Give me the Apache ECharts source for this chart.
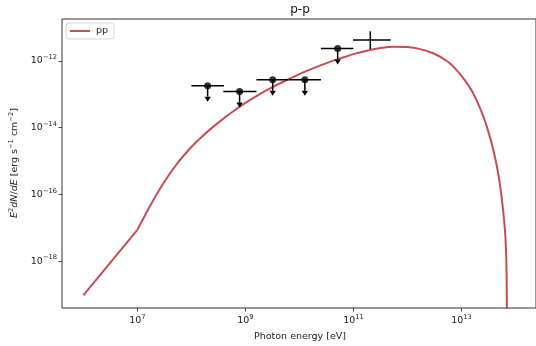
<!DOCTYPE html>
<html>
<head>
<meta charset="utf-8">
<script src="https://cdn.jsdelivr.net/npm/echarts@6/dist/echarts.min.js"></script>
<style>html,body{margin:0;padding:0;background:#fff}#c{width:536px;height:346px}</style>
</head>
<body>
<div id="c"></div>
<script>
// Model curve (pp): photon energy [eV] and E^2 dN/dE [erg s^-1 cm^-2]
const lowE = [1e6, 1e7];
const lowF = [9.5e-20, 8.71e-18];
const curveE = [1e7, 1.78e7, 3.16e7, 5.62e7, 1e8, 1.78e8, 3.16e8, 5.62e8, 1e9, 1.78e9, 3.16e9, 5.62e9,
  1e10, 1.78e10, 3.16e10, 5.62e10, 1e11, 1.78e11, 3.16e11, 5.62e11, 1e12, 1.78e12, 3.16e12, 5.62e12, 7.5e12,
  1e13, 1.58e13, 2.51e13, 3.55e13, 4.47e13, 5.25e13, 5.89e13, 6.46e13, 6.76e13, 6.89e13, 6.92e13];
const curveF = [8.71e-18, 5.01e-17, 2.40e-16, 8.91e-16, 2.63e-15, 6.46e-15, 1.41e-14, 2.88e-14, 5.50e-14, 9.77e-14, 1.62e-13, 2.57e-13,
  3.98e-13, 5.89e-13, 8.51e-13, 1.17e-12, 1.58e-12, 2.00e-12, 2.40e-12, 2.63e-12, 2.57e-12, 2.19e-12, 1.62e-12, 9.33e-13, 6.03e-13,
  3.55e-13, 1.20e-13, 2.24e-14, 3.80e-15, 7.59e-16, 1.58e-16, 3.39e-17, 6.31e-18, 1e-18, 1e-19, 1e-20];

// Upper limits: bin centre, bin edges, flux limit, end of the downward limit bar
const ulE = [2.0e8, 7.8e8, 3.2e9, 1.26e10, 5.1e10];
const ulElo = [1.0e8, 3.9e8, 1.6e9, 6.3e9, 2.5e10];
const ulEhi = [4.0e8, 1.6e9, 6.2e9, 2.5e10, 1.0e11];
const ulF = [1.78e-13, 1.2e-13, 2.7e-13, 2.7e-13, 2.34e-12];
const ulFend = [8.4e-14, 5.6e-14, 1.27e-13, 1.27e-13, 1.1e-12];

// Flux point with error cross
const ptE = [2.05e11];
const ptElo = [9.8e10];
const ptEhi = [4.9e11];
const ptF = [4.2e-12];
const ptFlo = [2.24e-12];
const ptFhi = [7.6e-12];

const xTicks = [7, 9, 11, 13];
const yTicks = [-18, -16, -14, -12];

const L = Math.log10;
const FF = 'DejaVu Sans';
const TXT = '#222';

const lowData = lowE.map((e, i) => [L(e), L(lowF[i])]);
const curveData = curveE.map((e, i) => [L(e), L(curveF[i])]);
const ulData = ulE.map((e, i) => [L(e), L(ulF[i]), L(ulElo[i]), L(ulEhi[i]), L(ulFend[i])]);
const ptData = ptE.map((e, i) => [L(e), L(ptF[i]), L(ptElo[i]), L(ptEhi[i]), L(ptFlo[i]), L(ptFhi[i])]);
const markerData = ulE.map((e, i) => [L(e), L(ulF[i])]);

const expRich = {
  b: {fontFamily: FF, fontSize: 9.5, color: TXT, lineHeight: 14, verticalAlign: 'middle'},
  s: {fontFamily: FF, fontSize: 6.7, color: TXT, lineHeight: 7, verticalAlign: 'top'}
};
const expFmt = v => '{b|10}{s|' + (v < 0 ? '\u2212' + Math.abs(v) : v) + '}';
const RED = '#C44E52';

const chart = echarts.init(document.getElementById('c'), null, {renderer: 'canvas'});
chart.setOption({
  backgroundColor: '#fff',
  animation: false,
  grid: {left: 62, top: 19, right: -2, bottom: 38, show: true, borderColor: '#333', borderWidth: 1, backgroundColor: 'transparent'},
  xAxis: {
    type: 'value', min: 5.605, max: 14.379,
    splitLine: {show: false}, axisLine: {show: false},
    axisTick: {show: true, customValues: xTicks, length: 3.5, lineStyle: {color: '#333', width: 0.9}},
    axisLabel: {show: true, customValues: xTicks, margin: 6, formatter: expFmt, rich: expRich}
  },
  yAxis: {
    type: 'value', min: -19.40, max: -10.75,
    splitLine: {show: false}, axisLine: {show: false},
    axisTick: {show: true, customValues: yTicks, length: 3.5, lineStyle: {color: '#333', width: 0.9}},
    axisLabel: {show: true, customValues: yTicks, margin: 5, formatter: expFmt, rich: expRich}
  },
  legend: {
    data: ['pp'], left: 66, top: 23, orient: 'vertical',
    padding: [3, 6, 3, 4], itemWidth: 20, itemHeight: 2, itemGap: 4, icon: 'rect',
    borderColor: '#d6d6d6', borderWidth: 1, borderRadius: 3, backgroundColor: 'rgba(255,255,255,0.8)',
    textStyle: {fontFamily: FF, fontSize: 9.5, color: TXT, padding: [0, 0, 0, 1]}
  },
  graphic: [
    {type: 'text', x: 300, y: 10, style: {text: 'p-p', fontFamily: FF, fontSize: 12, fill: '#111', align: 'center', verticalAlign: 'middle'}},
    {type: 'text', x: 300, y: 337, style: {text: 'Photon energy [eV]', fontFamily: FF, fontSize: 9.5, fill: TXT, align: 'center', verticalAlign: 'middle'}},
    {type: 'text', x: 15, y: 163, rotation: Math.PI / 2, style: {
      text: '{i|E}{s|2}{i|dN}{r|/}{i|dE}{r| [erg s}{s|\u22121}{r| cm}{s|\u22122}{r|]}',
      align: 'center', verticalAlign: 'middle',
      rich: {
        i: {fontFamily: FF, fontStyle: 'italic', fontSize: 9.5, fill: TXT, lineHeight: 14, verticalAlign: 'middle'},
        r: {fontFamily: FF, fontSize: 9.5, fill: TXT, lineHeight: 14, verticalAlign: 'middle'},
        s: {fontFamily: FF, fontSize: 6.7, fill: TXT, lineHeight: 7, verticalAlign: 'top'}
      }
    }}
  ],
  series: [
    {
      name: 'pp', type: 'line', data: curveData, showSymbol: false, symbol: 'none',
      smooth: 0.3, clip: true,
      lineStyle: {color: RED, width: 2}, itemStyle: {color: RED}, z: 2
    },
    {
      name: 'pp', type: 'line', data: lowData, showSymbol: false, symbol: 'none',
      smooth: false, clip: true,
      lineStyle: {color: RED, width: 2}, itemStyle: {color: RED}, z: 2
    },
    {
      name: 'ul', type: 'custom', data: ulData, z: 3,
      renderItem: (params, api) => {
        const c = api.coord([api.value(0), api.value(1)]);
        const lo = api.coord([api.value(2), api.value(1)]);
        const hi = api.coord([api.value(3), api.value(1)]);
        const en = api.coord([api.value(0), api.value(4)]);
        const st = {stroke: '#000', lineWidth: 1.5};
        return {type: 'group', children: [
          {type: 'line', shape: {x1: lo[0], y1: lo[1], x2: hi[0], y2: hi[1]}, style: st},
          {type: 'line', shape: {x1: c[0], y1: c[1], x2: en[0], y2: en[1]}, style: st},
          {type: 'polygon', shape: {points: [[en[0] - 3.2, en[1]], [en[0] + 3.2, en[1]], [en[0], en[1] + 5]]}, style: {fill: '#000'}}
        ]};
      }
    },
    {
      name: 'pt', type: 'custom', data: ptData, z: 3,
      renderItem: (params, api) => {
        const lo = api.coord([api.value(2), api.value(1)]);
        const hi = api.coord([api.value(3), api.value(1)]);
        const bl = api.coord([api.value(0), api.value(4)]);
        const bh = api.coord([api.value(0), api.value(5)]);
        const st = {stroke: '#000', lineWidth: 1.5};
        return {type: 'group', children: [
          {type: 'line', shape: {x1: lo[0], y1: lo[1], x2: hi[0], y2: hi[1]}, style: st},
          {type: 'line', shape: {x1: bl[0], y1: bl[1], x2: bh[0], y2: bh[1]}, style: st}
        ]};
      }
    },
    {
      name: 'markers', type: 'scatter', data: markerData, symbol: 'circle', symbolSize: 7,
      itemStyle: {color: '#000'}, z: 4
    }
  ]
});
</script>
</body>
</html>
